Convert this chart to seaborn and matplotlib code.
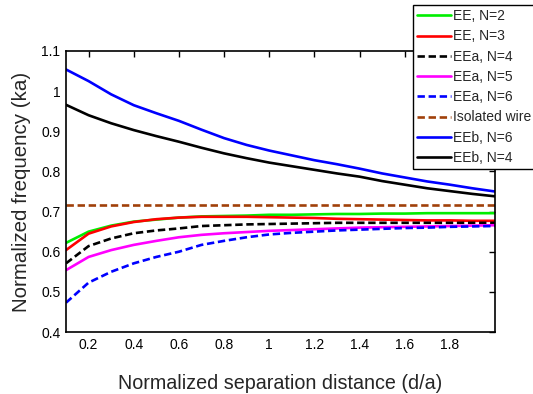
import matplotlib
matplotlib.use("Agg")
import matplotlib.pyplot as plt
import seaborn as sns
import pandas as pd

x = [0.1, 0.2, 0.3, 0.4, 0.5, 0.6, 0.7, 0.8, 0.9, 1.0,
     1.1, 1.2, 1.3, 1.4, 1.5, 1.6, 1.7, 1.8, 1.9, 2.0]

ee_n2 = [0.622, 0.650, 0.665, 0.675, 0.680, 0.685, 0.688, 0.689, 0.690, 0.692,
         0.692, 0.693, 0.694, 0.694, 0.695, 0.695, 0.696, 0.696, 0.696, 0.696]
ee_n3 = [0.604, 0.645, 0.663, 0.674, 0.681, 0.685, 0.687, 0.687, 0.687, 0.686,
         0.685, 0.684, 0.682, 0.681, 0.680, 0.679, 0.678, 0.678, 0.677, 0.677]
eea_n4 = [0.571, 0.614, 0.633, 0.646, 0.653, 0.658, 0.664, 0.666, 0.668, 0.669,
          0.670, 0.671, 0.672, 0.672, 0.672, 0.672, 0.672, 0.672, 0.672, 0.672]
eea_n5 = [0.554, 0.587, 0.604, 0.617, 0.627, 0.636, 0.642, 0.646, 0.649, 0.652,
          0.654, 0.656, 0.658, 0.660, 0.661, 0.662, 0.663, 0.664, 0.665, 0.666]
eea_n6 = [0.473, 0.523, 0.550, 0.571, 0.587, 0.600, 0.617, 0.627, 0.636, 0.643,
          0.647, 0.650, 0.653, 0.655, 0.657, 0.659, 0.660, 0.662, 0.663, 0.664]
isolated = [0.717] * 20
eeb_n6 = [1.054, 1.025, 0.992, 0.965, 0.945, 0.926, 0.904, 0.883, 0.866, 0.852,
          0.840, 0.828, 0.818, 0.807, 0.795, 0.785, 0.775, 0.767, 0.758, 0.750]
eeb_n4 = [0.966, 0.940, 0.920, 0.903, 0.888, 0.874, 0.859, 0.845, 0.833, 0.822,
          0.813, 0.804, 0.795, 0.787, 0.776, 0.767, 0.758, 0.751, 0.744, 0.738]

labels = ["EE, N=2", "EE, N=3", "EEa, N=4", "EEa, N=5", "EEa, N=6",
          "Isolated wire", "EEb, N=6", "EEb, N=4"]
series = [ee_n2, ee_n3, eea_n4, eea_n5, eea_n6, isolated, eeb_n6, eeb_n4]
colors = ["#00ee00", "#ff0000", "#000000", "#ff00ff", "#0000ff",
          "#a0400a", "#0000ff", "#000000"]
styles = ["-", "-", "--", "-", "--", "--", "-", "-"]

sns.set_style("white")
plt.rcParams['font.family'] = ['Liberation Sans', 'DejaVu Sans']

fig = plt.figure(figsize=(5.33, 3.94), dpi=100)
ax = fig.add_axes([66/533, 1 - 332/394, (495-66)/533, (332-51)/394])

for lab, ys, c, ls in zip(labels, series, colors, styles):
    df = pd.DataFrame({"x": x, "y": ys})
    sns.lineplot(data=df, x="x", y="y", ax=ax, color=c, linestyle=ls,
                 linewidth=1.9, label=lab)
    if ls == "--":
        ax.lines[-1].set_dashes((2.8, 1.4))

ax.set_xlim(0.1, 2.0)
ax.set_ylim(0.4, 1.1)
ax.set_xticks([0.2, 0.4, 0.6, 0.8, 1, 1.2, 1.4, 1.6, 1.8])
ax.set_xticklabels(["0.2", "0.4", "0.6", "0.8", "1", "1.2", "1.4", "1.6", "1.8"])
ax.set_yticks([0.4, 0.5, 0.6, 0.7, 0.8, 0.9, 1.0, 1.1])
ax.set_yticklabels(["0.4", "0.5", "0.6", "0.7", "0.8", "0.9", "1", "1.1"])
ax.tick_params(direction="in", top=True, right=True, length=4, width=1,
               labelsize=10, colors="black", pad=4)
for s in ax.spines.values():
    s.set_color("black")
    s.set_linewidth(1.2)
ax.set_xlabel("Normalized separation distance (d/a)", fontsize=14.2, labelpad=16)
ax.set_ylabel("Normalized frequency (ka)", fontsize=14.8, labelpad=7)

leg = ax.legend(loc="upper left", bbox_to_anchor=(413/533, 1 - 5/394),
                bbox_transform=fig.transFigure, fontsize=10, frameon=True,
                fancybox=False, framealpha=1, edgecolor="black",
                handlelength=2.4, handletextpad=0.2, labelspacing=0.45,
                borderpad=0.3, borderaxespad=0)
leg.get_frame().set_linewidth(1.0)

fig.savefig("out.png", dpi=100)
